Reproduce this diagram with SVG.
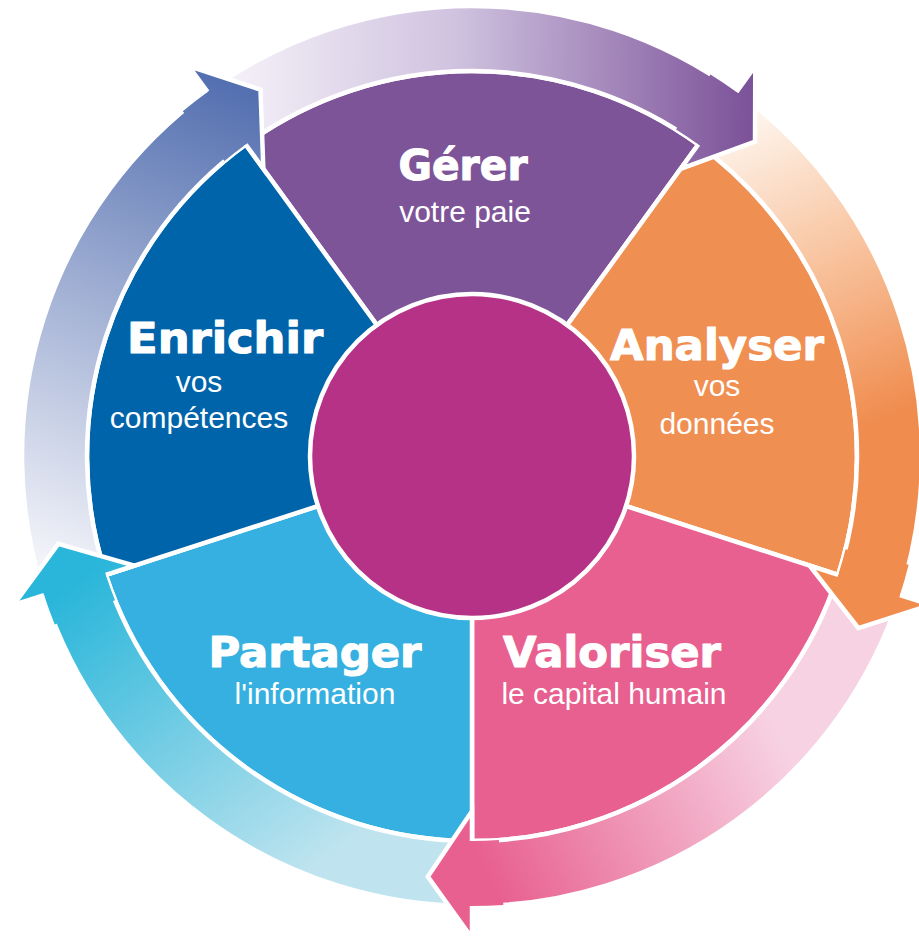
<svg xmlns="http://www.w3.org/2000/svg" width="919" height="939" viewBox="0 0 919 939">
<defs>
<style>
.seg{stroke:#fff;stroke-width:4.5;stroke-linejoin:miter}
.band{stroke:#fff;stroke-width:4.5;stroke-linejoin:miter}
.headfill{stroke:none}
.headline{fill:none;stroke:#fff;stroke-width:4.5;stroke-linejoin:miter;stroke-miterlimit:10}
.title{font-family:"DejaVu Sans","Liberation Sans",sans-serif;font-weight:bold;font-size:43px;fill:#fff;stroke:#fff;stroke-width:1.1;stroke-linejoin:round;text-anchor:middle}
.sub{font-family:"Liberation Sans","Helvetica",sans-serif;font-weight:normal;font-size:30px;fill:#fff;text-anchor:middle}
</style>
<linearGradient id="gPurple" gradientUnits="userSpaceOnUse" x1="215" y1="100" x2="750" y2="110">
<stop offset="0" stop-color="#f7f4fa"/><stop offset="0.45" stop-color="#cfc2df"/><stop offset="1" stop-color="#7c5299"/>
</linearGradient>
<linearGradient id="gOrange" gradientUnits="userSpaceOnUse" x1="745" y1="120" x2="880" y2="420">
<stop offset="0" stop-color="#fef4ec"/><stop offset="0.5" stop-color="#f8c29c"/><stop offset="1" stop-color="#f08c4e"/>
</linearGradient>
<linearGradient id="gPink" gradientUnits="userSpaceOnUse" x1="790" y1="760" x2="500" y2="900">
<stop offset="0" stop-color="#f7d2e2"/><stop offset="1" stop-color="#e8608f"/>
</linearGradient>
<linearGradient id="gCyan" gradientUnits="userSpaceOnUse" x1="300" y1="880" x2="80" y2="580">
<stop offset="0" stop-color="#bfe4ef"/><stop offset="1" stop-color="#2ab6da"/>
</linearGradient>
<linearGradient id="gBlue" gradientUnits="userSpaceOnUse" x1="50" y1="560" x2="240" y2="90">
<stop offset="0" stop-color="#f2f3f9"/><stop offset="1" stop-color="#5470b0"/>
</linearGradient>
</defs>
<rect width="919" height="939" fill="#fff"/>

<g id="node-gerer">
<path class="seg" fill="#7e5499" d="M472,456 L245.70,144.53 A385,385 0 0 1 698.30,144.53 Z"/>
<text class="title" x="463" y="180" textLength="129" lengthAdjust="spacingAndGlyphs">Gérer</text>
<text class="sub" x="465" y="222">votre paie</text>
</g>
<g id="node-analyser">
<path class="seg" fill="#f08f52" d="M472,456 L698.30,144.53 A385,385 0 0 1 838.16,574.97 Z"/>
<text class="title" x="717" y="360" textLength="214" lengthAdjust="spacingAndGlyphs">Analyser</text>
<text class="sub" x="717" y="396">vos</text>
<text class="sub" x="717" y="434">données</text>
</g>
<g id="node-valoriser">
<path class="seg" fill="#e8608f" d="M472,456 L838.16,574.97 A385,385 0 0 1 472,841 Z"/>
<text class="title" x="612" y="667" textLength="218" lengthAdjust="spacingAndGlyphs">Valoriser</text>
<text class="sub" x="614" y="704">le capital humain</text>
</g>
<g id="node-partager">
<path class="seg" fill="#35b0e0" d="M472,456 L472,841 A385,385 0 0 1 105.84,574.97 Z"/>
<text class="title" x="315" y="667" textLength="213" lengthAdjust="spacingAndGlyphs">Partager</text>
<text class="sub" x="315" y="704">l'information</text>
</g>
<g id="node-enrichir">
<path class="seg" fill="#0064aa" d="M472,456 L105.84,574.97 A385,385 0 0 1 245.70,144.53 Z"/>
<text class="title" x="225" y="353" textLength="196" lengthAdjust="spacingAndGlyphs">Enrichir</text>
<text class="sub" x="199" y="392">vos</text>
<text class="sub" x="199" y="428">compétences</text>
</g>
<g id="node-center">
<circle cx="472" cy="456" r="162" fill="#b53286" stroke="#fff" stroke-width="4.5"/>
</g>

<g id="connectors">
<path class="band" fill="url(#gPurple)" d="M207.50,91.94 A450,450 0 0 1 736.50,91.94 L698.30,144.53 A385,385 0 0 0 245.70,144.53 Z"/>
<path class="band" fill="url(#gOrange)" d="M736.50,91.94 A450,450 0 0 1 899.98,595.06 L838.16,574.97 A385,385 0 0 0 698.30,144.53 Z"/>
<path class="band" fill="url(#gPink)" d="M899.98,595.06 A450,450 0 0 1 472,906 L472,841 A385,385 0 0 0 838.16,574.97 Z"/>
<path class="band" fill="url(#gCyan)" d="M472,906 A450,450 0 0 1 44.02,595.06 L105.84,574.97 A385,385 0 0 0 472,841 Z"/>
<path class="band" fill="url(#gBlue)" d="M44.02,595.06 A450,450 0 0 1 207.50,91.94 L245.70,144.53 A385,385 0 0 0 105.84,574.97 Z"/>

<path class="headfill" fill="url(#gPurple)" d="M710.46,74.38 A450,450 0 0 1 736.50,91.94 L755.31,66.05 L755.04,141.65 L680.66,168.80 L698.30,144.53 A385,385 0 0 0 676.02,129.50 Z"/>
<path class="headline" d="M736.50,91.94 L755.31,66.05 L755.04,141.65 L680.66,168.80 L698.30,144.53"/>

<path class="headfill" fill="url(#gOrange)" d="M908.63,564.86 A450,450 0 0 1 899.98,595.06 L930.41,604.95 L858.43,628.05 L809.63,565.70 L838.16,574.97 A385,385 0 0 0 845.56,549.14 Z"/>
<path class="headline" d="M899.98,595.06 L930.41,604.95 L858.43,628.05 L809.63,565.70 L838.16,574.97"/>

<path class="headfill" fill="url(#gPink)" d="M503.39,904.90 A450,450 0 0 1 472,906 L472,938 L427.79,876.68 L472,811 L472,841 A385,385 0 0 0 498.86,840.06 Z"/>
<path class="headline" d="M472,906 L472,938 L427.79,876.68 L472,811 L472,841"/>

<path class="headfill" fill="url(#gCyan)" d="M54.77,624.57 A450,450 0 0 1 44.02,595.06 L13.59,604.95 L58.24,543.95 L134.37,565.70 L105.84,574.97 A385,385 0 0 0 115.03,600.22 Z"/>
<path class="headline" d="M44.02,595.06 L13.59,604.95 L58.24,543.95 L134.37,565.70 L105.84,574.97"/>

<path class="headfill" fill="url(#gBlue)" d="M182.75,111.28 A450,450 0 0 1 207.50,91.94 L188.69,66.05 L260.5,89.67 L263.34,168.80 L245.70,144.53 A385,385 0 0 0 224.53,161.07 Z"/>
<path class="headline" d="M207.50,91.94 L188.69,66.05 L260.5,89.67 L263.34,168.80 L245.70,144.53"/>
</g>
</svg>
